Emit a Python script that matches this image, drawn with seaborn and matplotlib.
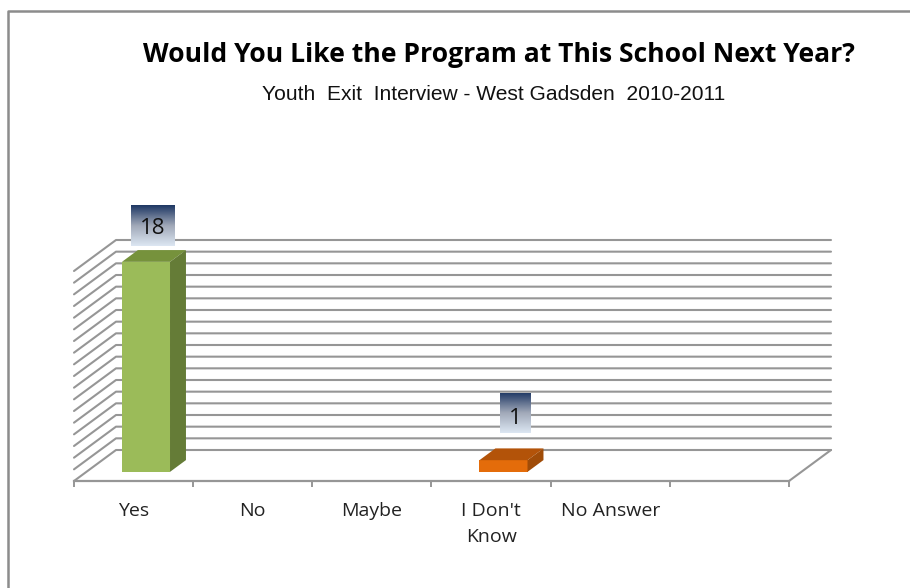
import numpy as np
import pandas as pd
import seaborn as sns
import matplotlib
matplotlib.use("Agg")
import matplotlib.pyplot as plt
from matplotlib.patches import Polygon
from matplotlib.lines import Line2D
from matplotlib.transforms import Affine2D, IdentityTransform

categories = ["Yes", "No", "Maybe", "I Don't\nKnow", "No Answer", ""]
responses = [18, 0, 0, 1, 0, 0]
front_colors = ["#9BBB59", "#9BBB59", "#9BBB59", "#E46C0A", "#9BBB59", "#9BBB59"]
top_colors = ["#76923C", "#76923C", "#76923C", "#B35309", "#76923C", "#76923C"]
side_colors = ["#657C37", "#657C37", "#657C37", "#A04C08", "#657C37", "#657C37"]
title = "Would You Like the Program at This School Next Year?"
subtitle = "Youth  Exit  Interview - West Gadsden  2010-2011"

W, H = 910, 588
sns.set_style("white")
plt.rcParams["font.family"] = ["Open Sans", "DejaVu Sans"]
fig = plt.figure(figsize=(W / 100, H / 100), dpi=100, facecolor="white")
ax = fig.add_axes([74 / W, 1 - 481 / H, 715 / W, 210 / H], facecolor="none")

df = pd.DataFrame({"category": categories, "n": responses})
sns.barplot(data=df, x="category", y="n", hue="category", palette=front_colors,
            order=categories, hue_order=categories, dodge=False, legend=False,
            width=48 / 119, saturation=1, ax=ax, zorder=3)
ax.set_xlim(-0.5, 5.5)
ax.set_ylim(0, 18)
ax.set_xlabel("")
ax.set_ylabel("")
ax.set_yticks([])
for s in ["left", "right", "top"]:
    ax.spines[s].set_visible(False)
GREY = "#969696"
ax.spines["bottom"].set_color(GREY)
ax.spines["bottom"].set_linewidth(1.6)
ax.spines["bottom"].set_zorder(1)
ax.set_xticks(range(len(categories)))
ax.set_xticklabels(categories, fontsize=14, color="#222222", linespacing=1.6)
ax.tick_params(axis="x", which="major", length=0, pad=15)
ax.set_xticks(np.arange(-0.5, 6, 1), minor=True)
ax.tick_params(axis="x", which="minor", length=4.5, width=1.4, color=GREY, bottom=True)

DX, DY = 42, 31


def pt(x, v, d=0.0):
    px, py = ax.transData.transform((x, v))
    return (px + DX * d, py + DY * d)


# wall and floor rules, from the value scale
for v in range(0, 19):
    xs, ys = zip(pt(-0.5, v), pt(-0.5, v, 1), pt(5.5, v, 1))
    ax.add_line(Line2D(xs, ys, color=GREY, lw=1.5, transform=IdentityTransform(),
                       clip_on=False, zorder=1))
xs, ys = zip(pt(5.5, 0), pt(5.5, 0, 1))
ax.add_line(Line2D(xs, ys, color=GREY, lw=1.5, transform=IdentityTransform(),
                   clip_on=False, zorder=1))

# 3-D faces of the bars
D0, D1 = 0.295, 0.675
shift = Affine2D().translate(DX * D0, DY * D0)
for bar in list(ax.patches):
    if bar.get_height() <= 0:
        bar.set_visible(False)
        continue
    x0, x1 = bar.get_x(), bar.get_x() + bar.get_width()
    h = bar.get_height()
    i = int(round((x0 + x1) / 2))
    top = [pt(x0, h, D0), pt(x1, h, D0), pt(x1, h, D1), pt(x0, h, D1)]
    side = [pt(x1, 0, D0), pt(x1, h, D0), pt(x1, h, D1), pt(x1, 0, D1)]
    ax.add_patch(Polygon(top, closed=True, fc=top_colors[i], ec="none",
                         transform=IdentityTransform(), clip_on=False, zorder=3))
    ax.add_patch(Polygon(side, closed=True, fc=side_colors[i], ec="none",
                         transform=IdentityTransform(), clip_on=False, zorder=3))
    bar.set_transform(ax.transData + shift)
    bar.set_clip_on(False)
    bar.set_linewidth(0)

# value labels on gradient plates
grad = np.linspace(0, 1, 64).reshape(-1, 1)
cmap = matplotlib.colors.LinearSegmentedColormap.from_list(
    "plate", ["#1F3864", "#A0A8B8", "#DCE6F2"])
plates = {0: (131, 205, 44, 41, 228), 3: (500, 393, 31, 40, 418)}
for i, (px, py, pw, ph, ty) in plates.items():
    a = fig.add_axes([px / W, 1 - (py + ph) / H, pw / W, ph / H], zorder=5)
    a.imshow(grad, aspect="auto", cmap=cmap, extent=(0, 1, 0, 1))
    a.axis("off")
    fig.text((px + pw / 2) / W, 1 - ty / H, str(responses[i]), ha="center",
             va="center", fontsize=16, color="#111111", zorder=6)

fig.text(498.5 / W, 1 - 55 / H, title, ha="center", va="center", fontsize=19.1,
         fontweight="bold", color="black")
fig.text(493.5 / W, 1 - 94 / H, subtitle, ha="center", va="center", fontsize=15.1,
         family="Liberation Sans", color="#111111")

# outer chart frame
fig.add_artist(Line2D([8 / W, 8 / W, 1], [0, 1 - 11 / H, 1 - 11 / H],
                      transform=fig.transFigure, color="#8C8C8C", lw=1.8))

fig.savefig("out.png", dpi=100, facecolor="white")
